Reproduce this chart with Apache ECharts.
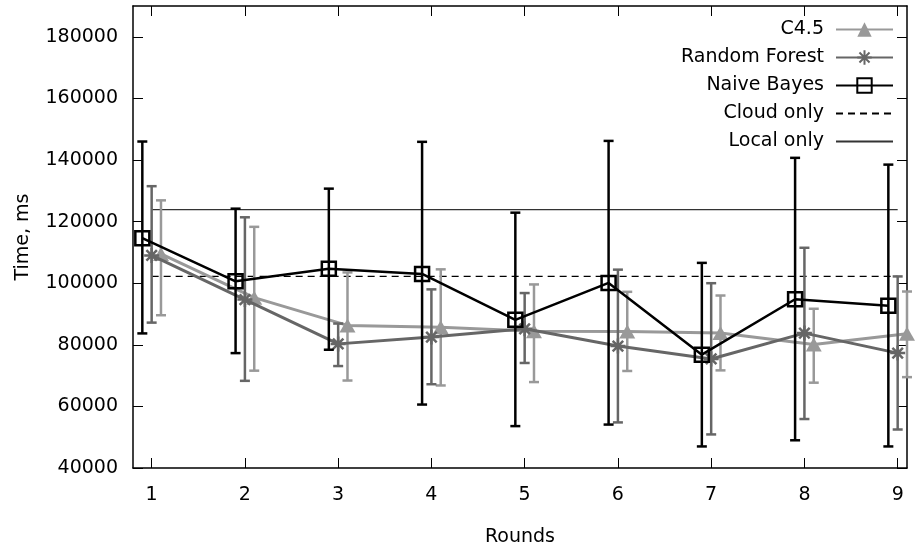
<!DOCTYPE html>
<html><head><meta charset="utf-8">
<script src="https://cdn.jsdelivr.net/npm/echarts@6/dist/echarts.min.js"></script>
<style>html,body{margin:0;padding:0;background:#fff}#c{width:919px;height:548px}</style>
</head><body><div id="c"></div>
<script>
const rounds = [1, 2, 3, 4, 5, 6, 7, 8, 9];
const xTicks = [1, 2, 3, 4, 5, 6, 7, 8, 9];
const yTicks = [40000, 60000, 80000, 100000, 120000, 140000, 160000, 180000];

const c45 = [109500, 95300, 86300, 85700, 84400, 84300, 83800, 80100, 83600];
const c45Low = [89600, 71600, 68400, 66800, 67900, 71500, 71700, 67700, 69500];
const c45High = [126900, 118300, 103500, 104500, 99600, 97200, 96000, 91700, 97300];

const rf = [109000, 94700, 80300, 82500, 85200, 79600, 75400, 83800, 77300];
const rfLow = [87200, 68300, 73100, 67200, 74100, 54800, 50900, 55900, 52500];
const rfHigh = [131500, 121400, 86900, 98000, 96800, 104400, 100000, 111500, 102200];

const nb = [114600, 100600, 104700, 103000, 88100, 100100, 76800, 94800, 92700];
const nbLow = [83700, 77300, 78400, 60600, 53600, 54100, 47000, 49000, 47000];
const nbHigh = [146000, 124200, 130700, 145900, 122900, 146200, 106600, 140700, 138500];

const cloudOnly = 102200;
const localOnly = 123900;
const refRange = [1, 9];

const offNB = -0.1, offRF = 0, offC45 = 0.1;

const FONT = 'DejaVu Sans';
const FS = 19;
const C_C45 = '#999999', C_RF = '#666666', C_NB = '#000000';

function pts(vals, off) { return rounds.map((r, i) => [r + off, vals[i]]); }
function errData(low, high, off) { return rounds.map((r, i) => [r + off, low[i], high[i]]); }

function errSeries(data, color, width) {
  return {
    type: 'custom', data, silent: true, encode: { x: 0, y: [1, 2] },
    renderItem(params, api) {
      const x = api.value(0), lo = api.value(1), hi = api.value(2);
      const p1 = api.coord([x, lo]), p2 = api.coord([x, hi]);
      const cap = 5;
      const st = { stroke: color, lineWidth: width };
      return { type: 'group', children: [
        { type: 'line', shape: { x1: p1[0], y1: p1[1], x2: p2[0], y2: p2[1] }, style: st },
        { type: 'line', shape: { x1: p1[0] - cap, y1: p1[1], x2: p1[0] + cap, y2: p1[1] }, style: st },
        { type: 'line', shape: { x1: p2[0] - cap, y1: p2[1], x2: p2[0] + cap, y2: p2[1] }, style: st }
      ]};
    }
  };
}

const axisLine = { show: true, lineStyle: { color: '#000', width: 1.5 } };
const tickStyle = { color: '#000', width: 1 };
const labelStyle = { color: '#000', fontSize: FS, fontFamily: FONT };
const plain = v => String(v);

const chart = echarts.init(document.getElementById('c'), null, { renderer: 'canvas' });
chart.setOption({
  animation: false,
  backgroundColor: '#fff',
  grid: { left: 133, right: 12, top: 6, bottom: 80, containLabel: false, outerBoundsMode: 'none' },
  legend: {
    orient: 'vertical', right: 20, top: 15, align: 'right',
    itemWidth: 57, itemHeight: 18, itemGap: 9,
    textStyle: { color: '#000', fontSize: FS, fontFamily: FONT, padding: [0, 7, 0, 0] },
    data: ['C4.5', 'Random Forest', 'Naive Bayes', 'Cloud only', 'Local only']
  },
  xAxis: [
    { type: 'value', min: 0.8, max: 9.1, position: 'bottom', axisLine,
      axisTick: { inside: true, length: 10, customValues: xTicks, lineStyle: tickStyle },
      axisLabel: Object.assign({ customValues: xTicks, margin: 18, formatter: plain }, labelStyle),
      splitLine: { show: false },
      name: 'Rounds', nameLocation: 'middle', nameGap: 60, nameTextStyle: labelStyle },
    { type: 'value', min: 0.8, max: 9.1, position: 'top', axisLine,
      axisTick: { inside: true, length: 10, customValues: xTicks, lineStyle: tickStyle },
      axisLabel: { show: false }, splitLine: { show: false } }
  ],
  yAxis: [
    { type: 'value', min: 40000, max: 190000, interval: 20000, position: 'left', axisLine,
      axisTick: { inside: true, length: 10, customValues: yTicks, lineStyle: tickStyle },
      axisLabel: Object.assign({ customValues: yTicks, margin: 15, formatter: plain }, labelStyle),
      splitLine: { show: false },
      name: 'Time, ms', nameLocation: 'middle', nameGap: 100, nameTextStyle: labelStyle },
    { type: 'value', min: 40000, max: 190000, interval: 20000, position: 'right', axisLine,
      axisTick: { inside: true, length: 10, customValues: yTicks, lineStyle: tickStyle },
      axisLabel: { show: false }, splitLine: { show: false } }
  ],
  series: [
    { name: 'Local only', type: 'line', data: refRange.map(x => [x, localOnly]),
      symbol: 'circle', showSymbol: false, symbolSize: 1,
      lineStyle: { color: '#333', width: 1.3 }, itemStyle: { color: 'rgba(0,0,0,0)', borderWidth: 0 }, z: 1 },
    { name: 'Cloud only', type: 'line', data: refRange.map(x => [x, cloudOnly]),
      symbol: 'circle', showSymbol: false, symbolSize: 1,
      lineStyle: { color: '#000', width: 1.3, type: [7, 5] }, itemStyle: { color: 'rgba(0,0,0,0)', borderWidth: 0 }, z: 1 },
    Object.assign(errSeries(errData(c45Low, c45High, offC45), C_C45, 2.5), { z: 2 }),
    { name: 'C4.5', type: 'line', data: pts(c45, offC45), symbol: 'triangle', symbolSize: [16, 14],
      lineStyle: { color: C_C45, width: 3 }, itemStyle: { color: C_C45 }, z: 3 },
    Object.assign(errSeries(errData(rfLow, rfHigh, offRF), C_RF, 2.5), { z: 4 }),
    { name: 'Random Forest', type: 'line', data: pts(rf, offRF),
      symbol: 'path://M0,-10L0,10M-10,0L10,0M-7,-7L7,7M-7,7L7,-7', symbolSize: 15,
      lineStyle: { color: C_RF, width: 3 }, itemStyle: { color: C_RF, borderColor: C_RF, borderWidth: 2.5 }, z: 5 },
    Object.assign(errSeries(errData(nbLow, nbHigh, offNB), C_NB, 2.5), { z: 6 }),
    { name: 'Naive Bayes', type: 'line', data: pts(nb, offNB), symbol: 'rect', symbolSize: 14,
      lineStyle: { color: C_NB, width: 2.5 }, itemStyle: { color: 'rgba(0,0,0,0)', borderColor: C_NB, borderWidth: 2.5 }, z: 7 }
  ]
});
</script></body></html>
